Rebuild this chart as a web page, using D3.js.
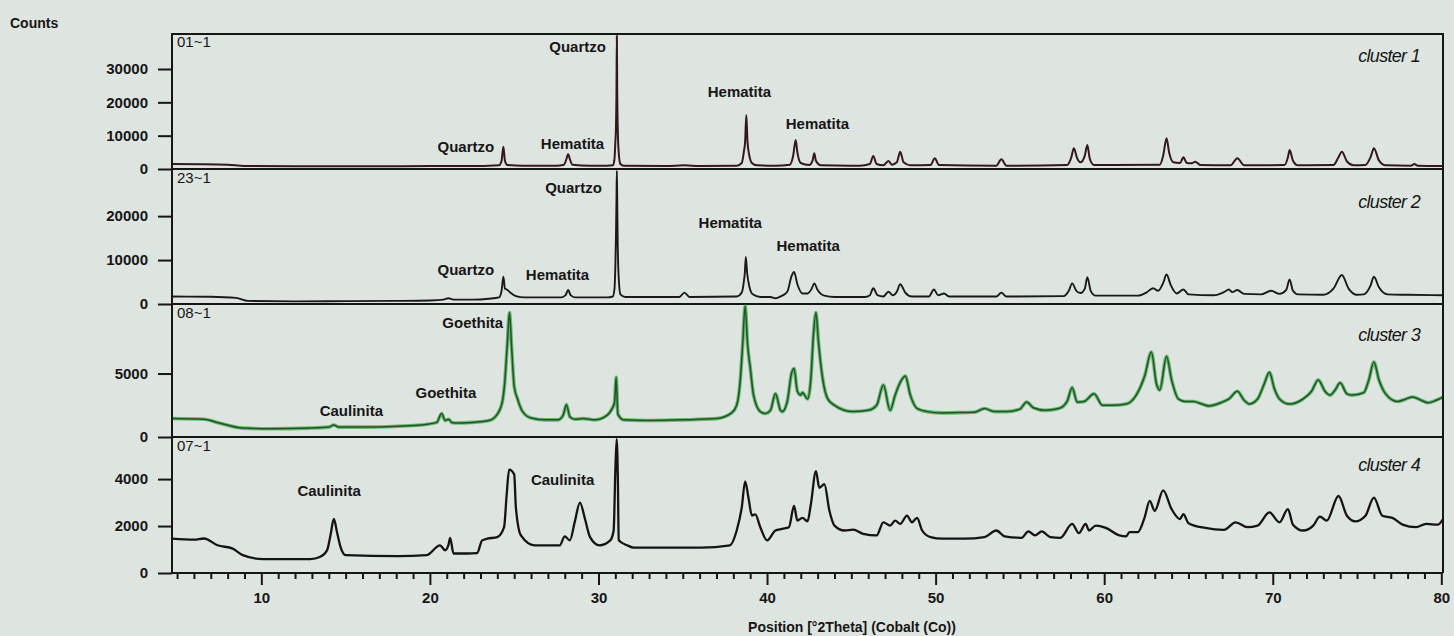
<!DOCTYPE html>
<html>
<head>
<meta charset="utf-8">
<script src="https://cdn.jsdelivr.net/npm/d3@7"></script>
<style>
  html, body { margin: 0; padding: 0; background: #dee4e0; }
  svg { display: block; }
  text { font-family: "Liberation Sans", Arial, sans-serif; fill: #161616; }
</style>
</head>
<body>
<svg id="chart" width="1454" height="636"></svg>
<script>
// ---- data -----------------------------------------------------------
const xTickValues = [10, 20, 30, 40, 50, 60, 70, 80];
const sampleIds = ["01~1", "23~1", "08~1", "07~1"];
const clusterNames = ["cluster 1", "cluster 2", "cluster 3", "cluster 4"];
const countMax = [40500, 30500, 10400, 5750];
const countTicks = [[0, 10000, 20000, 30000], [0, 10000, 20000], [0, 5000], [0, 2000, 4000]];

// diffractograms: [°2Theta, counts]
const cluster1 = [[4.7,1500],[6.5,1450],[8.0,1300],[9.0,900],[12,800],[15,800],[18,850],[20,900],[22,900],[23.5,950],[24.1,1100],[24.25,2500],[24.36,6700],[24.45,2500],[24.6,1200],[25.5,1000],[27.5,1000],[27.95,1300],[28.1,3000],[28.2,4500],[28.3,3000],[28.45,1300],[29.5,1000],[30.5,1000],[30.85,1100],[30.95,3000],[31.0,8000],[31.04,13000],[31.07,24000],[31.09,40000],[31.11,24000],[31.14,13000],[31.2,5000],[31.3,1500],[31.5,1000],[34,900],[35.1,1100],[36,900],[38.2,1000],[38.5,1800],[38.62,5000],[38.7,8200],[38.77,16200],[38.84,8200],[38.95,4000],[39.1,1800],[39.4,1100],[40.5,1000],[41.35,1300],[41.55,4000],[41.7,8700],[41.8,5000],[42.0,1800],[42.5,1200],[42.7,2500],[42.8,4700],[42.9,2500],[43.2,1100],[45.5,1000],[46.1,1500],[46.3,3900],[46.5,1500],[46.9,1100],[47.2,2400],[47.4,1300],[47.7,2000],[47.9,5200],[48.1,2000],[48.5,1100],[49.7,1200],[49.95,3200],[50.2,1200],[53.6,1000],[53.9,2900],[54.2,1000],[57.8,1200],[58.05,3500],[58.2,6200],[58.4,3200],[58.6,2000],[58.85,4000],[59.0,7200],[59.15,3000],[59.4,1200],[63.3,1300],[63.5,4000],[63.7,9200],[63.85,5000],[64.1,2000],[64.5,1800],[64.7,3500],[64.9,1800],[65.2,1700],[65.4,2200],[65.7,1200],[67.5,1100],[67.9,3200],[68.3,1100],[70.7,1200],[70.9,3500],[71.0,5700],[71.2,2500],[71.5,1100],[73.6,1200],[73.9,3500],[74.1,5200],[74.4,2300],[74.8,1100],[75.5,1200],[75.8,3500],[76.0,6200],[76.3,2600],[76.7,1100],[78.2,1000],[78.4,1500],[78.6,1000],[80.1,900]];

const cluster2 = [[4.7,1700],[7,1650],[8.5,1400],[9.2,700],[12,600],[15,650],[18,700],[20,800],[20.8,1000],[21.1,1300],[21.4,1000],[22.5,1000],[23.5,1200],[24.1,1500],[24.25,3000],[24.36,6200],[24.45,3500],[24.6,3200],[24.8,2500],[25.1,1800],[25.6,1500],[27.8,1500],[28.05,2000],[28.2,3200],[28.35,2000],[28.6,1500],[30.5,1500],[30.85,1700],[30.95,3500],[31.0,8500],[31.04,16000],[31.07,24400],[31.09,30300],[31.11,24400],[31.14,14000],[31.2,6000],[31.3,2200],[31.6,1600],[34.8,1600],[35.1,2600],[35.4,1600],[38.2,1700],[38.5,2600],[38.62,5000],[38.68,7000],[38.74,10700],[38.82,7000],[38.95,4000],[39.15,2200],[39.6,1600],[40.2,1600],[40.5,1300],[40.8,1700],[41.2,2800],[41.45,6300],[41.6,7300],[41.8,4500],[42.1,2400],[42.4,2400],[42.65,3500],[42.8,4700],[43.0,3200],[43.4,1900],[44,1600],[45.8,1600],[46.1,2000],[46.3,3600],[46.55,2000],[46.9,1700],[47.2,2800],[47.45,2000],[47.7,2800],[47.9,4500],[48.2,2600],[48.6,1700],[49.6,1700],[49.9,3300],[50.15,2000],[50.5,2400],[50.8,1700],[53.6,1700],[53.9,2600],[54.2,1700],[57.6,1800],[57.9,3000],[58.1,4700],[58.35,3000],[58.6,2500],[58.85,3500],[59.0,6100],[59.2,3000],[59.5,1900],[62.0,1900],[62.5,2600],[62.9,3600],[63.2,3000],[63.5,4800],[63.7,6700],[63.95,4300],[64.3,2400],[64.7,3300],[65.0,2200],[66.5,2000],[67.1,2700],[67.4,3300],[67.6,2700],[67.9,3200],[68.3,2300],[69.3,2200],[69.9,3000],[70.4,2300],[70.8,3200],[71.0,5600],[71.2,3000],[71.5,2200],[73.0,2100],[73.6,3500],[74.1,6600],[74.5,3500],[75.0,2100],[75.4,2200],[75.8,4200],[76.0,6200],[76.3,3800],[76.8,2200],[78,2100],[80.1,2000]];

const cluster3 = [[4.7,1460],[6.6,1400],[7.5,1100],[8.9,700],[10.5,650],[12.9,700],[14.0,780],[14.3,950],[14.6,780],[16,780],[18.05,850],[19.5,950],[20.4,1150],[20.7,1850],[20.9,1300],[21.1,1400],[21.3,1150],[21.6,1100],[22.5,1150],[23.5,1300],[24.0,1800],[24.3,2800],[24.44,4300],[24.6,7500],[24.72,9800],[24.85,7000],[25.0,4000],[25.2,3000],[25.5,2000],[26.0,1500],[26.9,1350],[27.6,1350],[27.9,1700],[28.1,2550],[28.3,1600],[28.6,1400],[29.1,1450],[29.8,1350],[30.5,1700],[30.75,2100],[30.95,2700],[31.05,4700],[31.15,1800],[31.5,1350],[33,1300],[35,1350],[37,1450],[37.9,1900],[38.2,2500],[38.4,4300],[38.55,7200],[38.7,10300],[38.85,7200],[39.0,5500],[39.2,3300],[39.6,2000],[39.9,1850],[40.2,2100],[40.5,3400],[40.8,2100],[40.9,2000],[41.2,2800],[41.45,5000],[41.6,5400],[41.8,3600],[42.0,3300],[42.1,3500],[42.4,3000],[42.6,4600],[42.75,8000],[42.9,9800],[43.05,7500],[43.3,4600],[43.6,3000],[44.0,2500],[45.1,2000],[46.0,2100],[46.5,2500],[46.9,4100],[47.3,2100],[47.6,3300],[47.9,4300],[48.2,4800],[48.5,3300],[48.9,2250],[49.5,2000],[50.4,1900],[51.7,1930],[52.3,1950],[52.9,2240],[53.5,2000],[54.2,2000],[55.0,2200],[55.4,2750],[55.8,2300],[56.5,2100],[57.3,2240],[57.8,2800],[58.1,3900],[58.4,2750],[58.8,2800],[59.4,3400],[59.9,2500],[60.5,2500],[61.3,2600],[61.9,3300],[62.4,4800],[62.8,6700],[63.1,4200],[63.3,3700],[63.7,6350],[64.0,4500],[64.4,3000],[64.8,2800],[65.3,2800],[65.8,2600],[66.2,2450],[67.0,2750],[67.4,3000],[67.9,3600],[68.3,2900],[68.6,2600],[69.1,3000],[69.5,4200],[69.8,5100],[70.1,3800],[70.4,3000],[71.0,2600],[71.8,3000],[72.3,3600],[72.7,4500],[73.1,3600],[73.4,3300],[73.7,3700],[74.0,4270],[74.4,3400],[74.7,3300],[75.4,3500],[75.7,4500],[76.0,5900],[76.3,4500],[76.7,3400],[77.4,2800],[77.9,3000],[78.3,3150],[78.8,2900],[79.2,2700],[79.7,2900],[80.1,3150]];

const cluster4 = [[4.7,1460],[6.0,1420],[6.6,1470],[7.4,1180],[8.3,1040],[8.9,760],[10.1,590],[12.9,590],[13.5,690],[13.9,970],[14.1,1600],[14.3,2300],[14.5,1700],[14.7,1100],[15.0,760],[18.1,720],[19.8,760],[20.6,1180],[20.9,970],[21.1,1200],[21.2,1500],[21.4,830],[22.2,830],[22.8,850],[23.1,1390],[23.4,1460],[24.0,1530],[24.4,1950],[24.55,3300],[24.7,4400],[25.0,4200],[25.1,2790],[25.4,1600],[26.2,1180],[27.7,1180],[28.0,1560],[28.3,1390],[28.6,2200],[28.9,3000],[29.2,2300],[29.5,1530],[30.06,1180],[30.7,1390],[30.9,1810],[31.0,4340],[31.08,5700],[31.15,4000],[31.2,1390],[31.7,1180],[32.1,1080],[36.1,1080],[37.8,1180],[38.2,1810],[38.5,2790],[38.7,3900],[38.9,3200],[39.1,2450],[39.3,2500],[39.6,1950],[40.0,1390],[40.5,1810],[40.9,1880],[41.3,1950],[41.6,2860],[41.8,2230],[42.1,2350],[42.4,2200],[42.6,2930],[42.9,4340],[43.1,3630],[43.4,3780],[43.7,2650],[44.0,2020],[44.6,1810],[45.1,1850],[45.7,1670],[46.5,1600],[46.9,2160],[47.3,2020],[47.6,2230],[47.9,2090],[48.3,2440],[48.6,2160],[48.9,2350],[49.2,1810],[49.7,1530],[50.4,1460],[51.7,1460],[52.9,1530],[53.6,1810],[54.1,1560],[55.1,1500],[55.5,1770],[55.9,1600],[56.3,1770],[56.8,1530],[57.4,1500],[58.1,2090],[58.5,1700],[58.9,2090],[59.1,1810],[59.5,2020],[60.1,1920],[60.9,1600],[61.3,1560],[61.5,1740],[62.0,1740],[62.4,2370],[62.7,3070],[63.0,2650],[63.5,3520],[64.0,2720],[64.5,2300],[64.7,2510],[65.0,2120],[66.0,1920],[67.1,1840],[67.8,2160],[68.5,1950],[69.1,2020],[69.8,2580],[70.4,2160],[70.9,2720],[71.2,2060],[71.8,1810],[72.4,2020],[72.8,2400],[73.2,2230],[73.9,3280],[74.4,2440],[74.9,2200],[75.5,2440],[76.0,3210],[76.5,2440],[77.1,2350],[77.7,2060],[78.5,1950],[79.1,2090],[79.8,2060],[80.1,2300]];

const patterns = [cluster1, cluster2, cluster3, cluster4];

// phase annotations, placed in data units of their panel
const peakLabels = [
  { panel: 0, text: "Quartzo",   theta: 22.13, counts: 5100 },
  { panel: 0, text: "Hematita",  theta: 28.46, counts: 6000 },
  { panel: 0, text: "Quartzo",   theta: 28.76, counts: 35100 },
  { panel: 0, text: "Hematita",  theta: 38.36, counts: 21600 },
  { panel: 0, text: "Hematita",  theta: 42.99, counts: 12000 },
  { panel: 1, text: "Quartzo",   theta: 22.13, counts: 6650 },
  { panel: 1, text: "Hematita",  theta: 27.57, counts: 5500 },
  { panel: 1, text: "Quartzo",   theta: 28.52, counts: 25200 },
  { panel: 1, text: "Hematita",  theta: 37.82, counts: 17400 },
  { panel: 1, text: "Hematita",  theta: 42.44, counts: 12150 },
  { panel: 2, text: "Caulinita", theta: 15.34, counts: 1650 },
  { panel: 2, text: "Goethita",  theta: 20.95, counts: 3070 },
  { panel: 2, text: "Goethita",  theta: 22.54, counts: 8590 },
  { panel: 3, text: "Caulinita", theta: 14.02, counts: 3280 },
  { panel: 3, text: "Caulinita", theta: 27.87, counts: 3750 }
];

// ---- layout ---------------------------------------------------------
const left = 172, right = 1443;
const panelTop = [34, 170, 305, 438];
const panelBottom = [169, 304, 437, 573];
const clusterBaseline = [62, 208, 341, 471];
const traceStyle = [
  { stroke: "#33181c", width: 2.0 },
  { stroke: "#1a1a1a", width: 1.9 },
  { stroke: "#24512b", width: 1.5, halo: "#58b462" },
  { stroke: "#141414", width: 2.3 }
];

const svg = d3.select("#chart");
const x = d3.scaleLinear().domain([4.7, 80.1]).range([left, right]);
const yScales = countMax.map((m, i) =>
  d3.scaleLinear().domain([0, m]).range([panelBottom[i], panelTop[i]]));

const line = (y) => d3.line().curve(d3.curveMonotoneX)
  .x(d => x(d[0])).y(d => y(d[1]));

patterns.forEach((data, i) => {
  const y = yScales[i];
  const g = svg.append("g");

  // y axis of the panel
  const ax = g.append("g")
    .attr("transform", `translate(${left},0)`)
    .call(d3.axisLeft(y).tickValues(countTicks[i]).tickSize(14).tickPadding(10)
      .tickFormat(d3.format("d")));
  ax.select(".domain").remove();
  ax.selectAll(".tick line").attr("stroke", "#161616").attr("stroke-width", 2);
  ax.selectAll(".tick text").attr("font-size", 15).attr("font-weight", "bold")
    .attr("font-family", "Liberation Sans, Arial, sans-serif").attr("fill", "#161616");

  // trace
  const st = traceStyle[i];
  if (st.halo) {
    g.append("path").datum(data).attr("d", line(y))
      .attr("fill", "none").attr("stroke", st.halo).attr("stroke-width", 3.6)
      .attr("stroke-linejoin", "round").attr("opacity", 0.9);
  }
  g.append("path").datum(data).attr("d", line(y))
    .attr("fill", "none").attr("stroke", st.stroke).attr("stroke-width", st.width)
    .attr("stroke-linejoin", "round");

  // panel bottom line
  g.append("line").attr("x1", left).attr("x2", right)
    .attr("y1", panelBottom[i]).attr("y2", panelBottom[i])
    .attr("stroke", "#161616").attr("stroke-width", 2);

  // sample id and cluster name
  g.append("text").attr("x", left + 5).attr("y", panelTop[i] + 13)
    .attr("font-size", 15).text(sampleIds[i]);
  g.append("text").attr("x", right - 23).attr("y", clusterBaseline[i])
    .attr("text-anchor", "end").attr("font-size", 18).attr("font-style", "italic")
    .attr("letter-spacing", -0.7).text(clusterNames[i]);
});

// phase labels
svg.append("g").selectAll("text").data(peakLabels).join("text")
  .attr("x", d => x(d.theta))
  .attr("y", d => yScales[d.panel](d.counts))
  .attr("text-anchor", "middle")
  .attr("font-size", 15).attr("font-weight", "bold")
  .text(d => d.text);

// outer frame
svg.append("path")
  .attr("d", `M${left},${panelBottom[3]}V${panelTop[0]}H${right}V${panelBottom[3]}`)
  .attr("fill", "none").attr("stroke", "#161616").attr("stroke-width", 2);

// x axis: minor and major ticks
const minor = d3.range(5, 80).filter(v => v % 10 !== 0);
const xMinor = svg.append("g").attr("transform", `translate(0,${panelBottom[3]})`)
  .call(d3.axisBottom(x).tickValues(minor).tickSize(6).tickFormat(""));
xMinor.select(".domain").remove();
xMinor.selectAll(".tick line").attr("stroke", "#161616").attr("stroke-width", 2);

const xMajor = svg.append("g").attr("transform", `translate(0,${panelBottom[3]})`)
  .call(d3.axisBottom(x).tickValues(xTickValues).tickSize(12).tickPadding(7));
xMajor.select(".domain").remove();
xMajor.selectAll(".tick line").attr("stroke", "#161616").attr("stroke-width", 2);
xMajor.selectAll(".tick text").attr("font-size", 15).attr("font-weight", "bold")
  .attr("font-family", "Liberation Sans, Arial, sans-serif").attr("fill", "#161616");

// axis titles
svg.append("text").attr("x", 10).attr("y", 28)
  .attr("font-size", 14).attr("font-weight", "bold").text("Counts");
svg.append("text").attr("x", 852).attr("y", 632).attr("text-anchor", "middle")
  .attr("font-size", 14).attr("font-weight", "bold")
  .text("Position [°2Theta] (Cobalt (Co))");
</script>
</body>
</html>
